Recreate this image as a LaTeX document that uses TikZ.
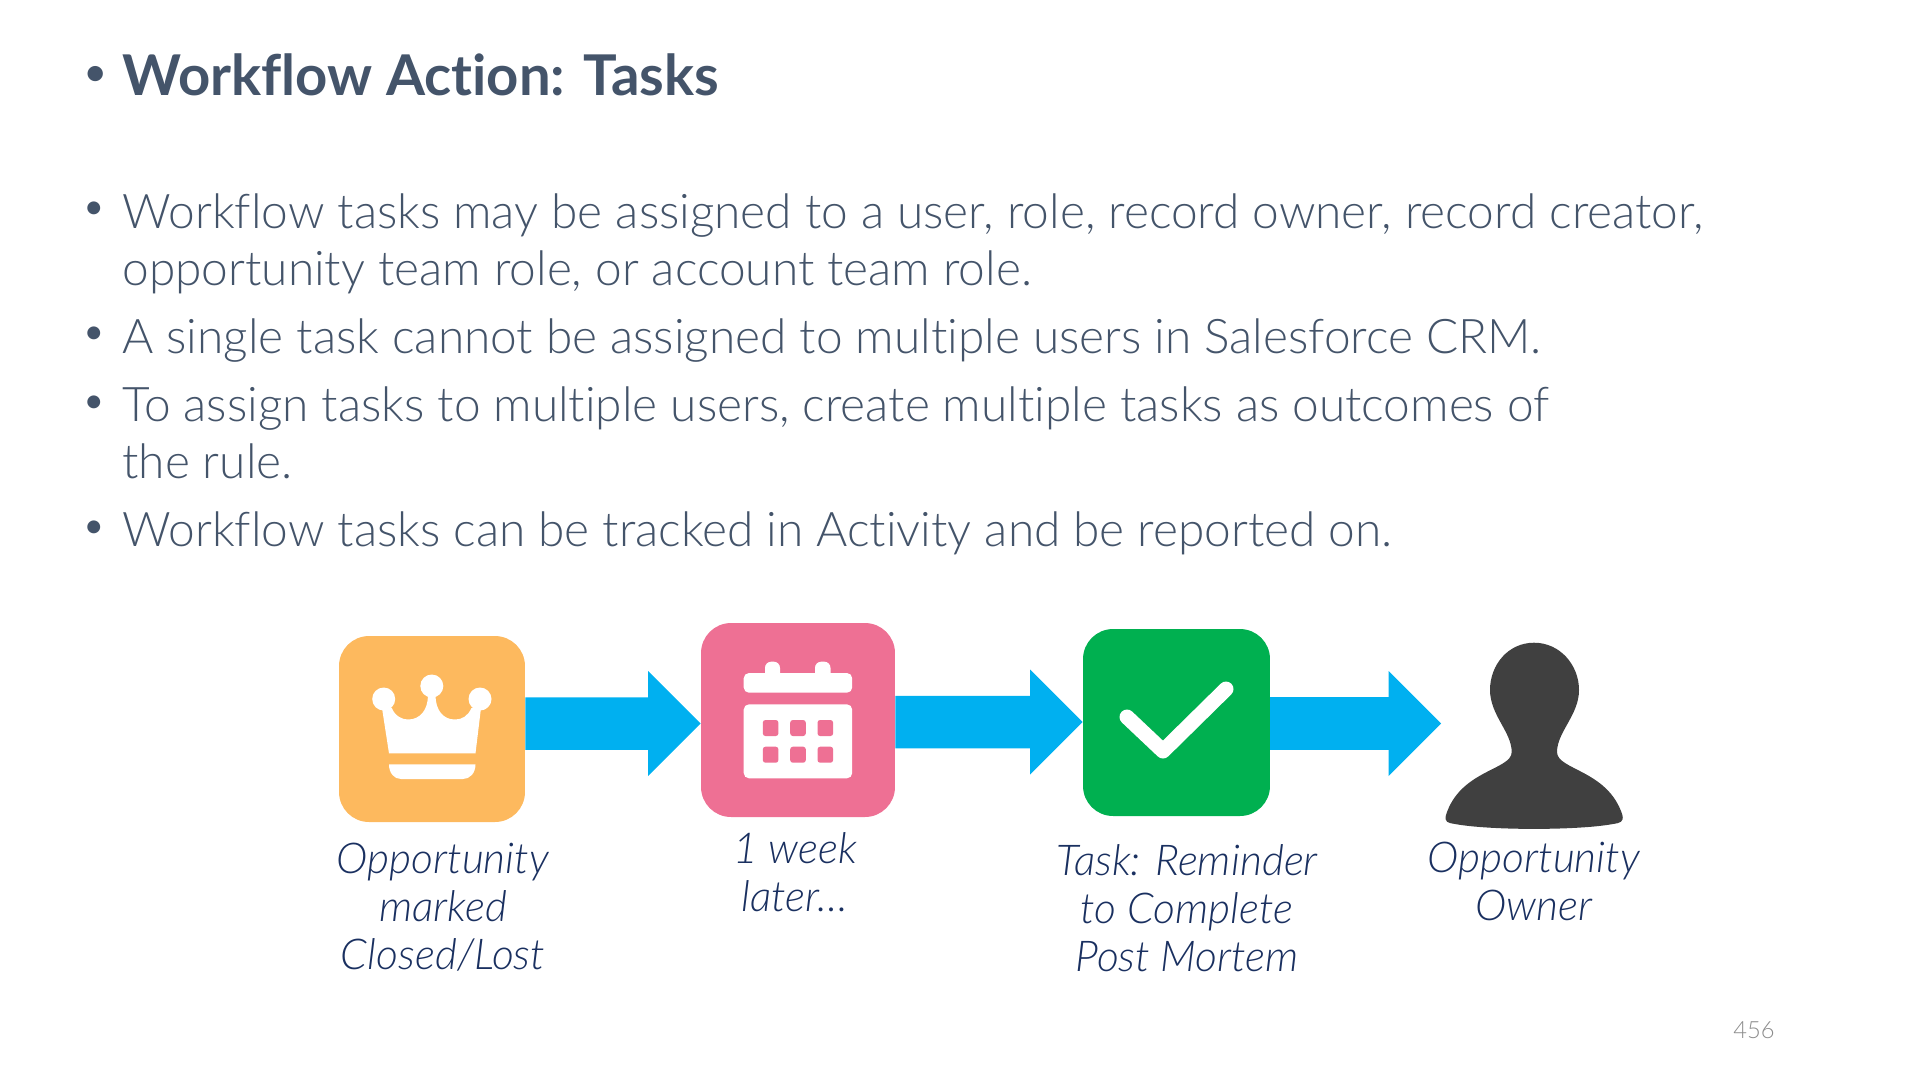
\documentclass[tikz,border=0pt]{standalone}
\usepackage{fontspec}
\setmainfont{Lato Light}[Ligatures=CommonOff,BoldFont=Lato Bold,ItalicFont=Lato Light Italic]
\usetikzlibrary{arrows.meta}

\definecolor{slate}{HTML}{44546A}
\definecolor{navy}{HTML}{1A3060}
\definecolor{sky}{HTML}{00B0F0}
\definecolor{crownorange}{HTML}{FDB95E}
\definecolor{calpink}{HTML}{EE7094}
\definecolor{taskgreen}{HTML}{00B050}
\definecolor{ownergray}{HTML}{404040}

\tikzset{
    headline/.style={anchor=base west, inner sep=0, text=slate, font=\fontsize{32}{38}\selectfont\bfseries},
    bodyline/.style={anchor=base west, inner sep=0, text=slate, font=\fontsize{27.2}{32}\selectfont},
    dot/.style={anchor=base, inner sep=0, text=slate, font=\fontsize{25}{30}\selectfont},
    iconbox/.style={rectangle, rounded corners=0.6cm, inner sep=0},
    caption/.style={align=center, inner sep=0, text=navy, font=\fontsize{24.2}{27.3}\selectfont\itshape},
    flow/.style={line width=1.05cm, draw=sky, -{Triangle[length=1.05cm,width=2.1cm,line width=0pt,fill=sky]}}
}

\begin{document}
\begin{tikzpicture}[x=0.02cm,y=-0.02cm]
        \useasboundingbox (0,0) rectangle (1920,1080);

        % the texts
        \node[dot, font=\fontsize{20}{24}\selectfont\bfseries] (b0) at (96,84) {•};
        \node[headline] (title) at (122,95) {Workflow Action: Tasks};

        \node[dot] (b1) at (94.5,221) {•};
        \node[bodyline] (l1) at (122,228) {Workflow tasks may be assigned to a user, role, record owner, record creator,};
        \node[bodyline] (l2) at (122,285) {opportunity team role, or account team role.};
        \node[dot] (b2) at (94.5,346) {•};
        \node[bodyline] (l3) at (122,353) {A single task cannot be assigned to multiple users in Salesforce CRM.};
        \node[dot] (b3) at (94.5,415) {•};
        \node[bodyline] (l4) at (122,421) {To assign tasks to multiple users, create multiple tasks as outcomes of};
        \node[bodyline] (l5) at (122,478) {the rule.};
        \node[dot] (b4) at (94.5,540) {•};
        \node[bodyline] (l6) at (122,546) {Workflow tasks can be tracked in Activity and be reported on.};

        % the boxes behind the icons
        \node[iconbox, fill=crownorange, minimum width=3.72cm, minimum height=3.72cm] (crown) at (432,729) {};
        \node[iconbox, fill=calpink, minimum width=3.88cm, minimum height=3.88cm] (cal) at (798,720) {};
        \node[iconbox, fill=taskgreen, minimum width=3.74cm, minimum height=3.74cm] (task) at (1176.5,722.5) {};
        \coordinate (owner) at (1441,723.5);

        % the crown
        \fill[white] (383.7,699) circle (11.5);
        \fill[white] (431.8,686) circle (11.5);
        \fill[white] (480,699) circle (11.5);
        \fill[white] (382,708) -- (391.8,708) .. controls (395,716) and (402,719.5) .. (408,719.5)
            .. controls (420,719.5) and (428,710) .. (428,695) -- (435.5,695)
            .. controls (435.5,710) and (443,719.5) .. (455,719.5)
            .. controls (462,719.5) and (468,716) .. (471.4,708) -- (481,708)
            -- (475.5,753.3) -- (389,753.3) -- cycle;
        \fill[white] (389,764.3) -- (475.5,764.3) .. controls (475.5,773) and (470,779) .. (463,779)
            -- (401,779) .. controls (394,779) and (389,773) .. (389,764.3) -- cycle;

        % the calendar
        \fill[white, rounded corners=3pt] (743.7,692.7) -- (743.7,673) -- (852.2,673) -- (852.2,692.7) -- cycle;
        \fill[white, rounded corners=3.5pt] (765,680) -- (765,661.7) -- (780,661.7) -- (780,680) -- cycle;
        \fill[white, rounded corners=3.5pt] (815,680) -- (815,661.7) -- (830.5,661.7) -- (830.5,680) -- cycle;
        \fill[white, rounded corners=3pt] (743.7,704.3) -- (852.2,704.3) -- (852.2,778.3) -- (743.7,778.3) -- cycle;
        \foreach \cx in {770.6,798,825.3}
            \foreach \cy in {728,754.7}
                \fill[calpink, rounded corners=1.5pt] (\cx-7.8,\cy-8) rectangle (\cx+7.8,\cy+8);

        % the tick
        \draw[white, line width=0.3cm, line cap=round, line join=round] (1127,717) -- (1163,751) -- (1226,689);

        % the person
        \fill[ownergray] (1534,642.7) .. controls (1508,642.7) and (1490,665) .. (1490,690)
            .. controls (1490,715) and (1511.7,732) .. (1511.7,752)
            .. controls (1511.7,770) and (1460,770) .. (1446,815)
            .. controls (1444,822) and (1448,823) .. (1455,824)
            .. controls (1490,830.5) and (1578,830.5) .. (1613,824)
            .. controls (1620,823) and (1624,822) .. (1622.4,815)
            .. controls (1608,770) and (1557,770) .. (1557,752)
            .. controls (1557,732) and (1579,715) .. (1579,690)
            .. controls (1579,665) and (1560,642.7) .. (1534,642.7) -- cycle;

        % draw the arrows
        \draw[flow] ([yshift=0.11cm]crown.east) -- ([yshift=-0.07cm]cal.west);
        \draw[flow] ([yshift=-0.04cm]cal.east) -- ([yshift=0.01cm]task.west);
        \draw[flow] ([yshift=-0.02cm]task.east) -- (owner);

        % the captions
        \node[caption, anchor=base] (c1) at (443,969) {Opportunity\\marked\\Closed/Lost};
        \node[caption, anchor=base] (c2) at (795,911) {1 week\\later…};
        \node[caption, anchor=base] (c3) at (1187,971.5) {Task: Reminder\\to Complete\\Post Mortem};
        \node[caption, anchor=base] (c4) at (1534,920.5) {Opportunity\\Owner};

        % the page number
        \node[anchor=base east, inner sep=0, text=black!45, font=\fontsize{13.5}{16}\selectfont] (page) at (1775,1038) {456};
\end{tikzpicture}
\end{document}
